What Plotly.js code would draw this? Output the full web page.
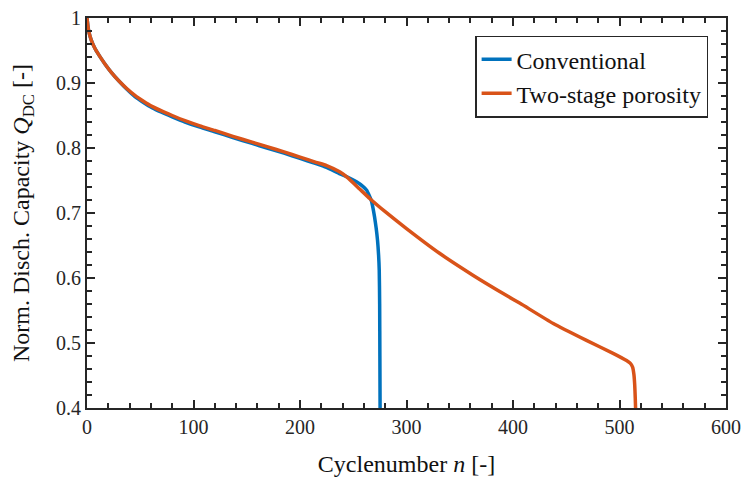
<!DOCTYPE html>
<html>
<head>
<meta charset="utf-8">
<script src="https://cdn.plot.ly/plotly-3.0.1.min.js"></script>
<style>html,body{margin:0;padding:0;background:#fff;}#chart{width:744px;height:484px;}</style>
</head>
<body>
<div id="chart"></div>
<script>
// Conventional electrode
const convN = [0, 1, 2, 4, 7.5, 12, 17, 23, 30, 37, 45, 53, 61, 70, 80, 92, 106, 120, 137, 155, 169, 185, 200, 215, 225, 237.6, 245, 253, 259, 262.6, 265, 267, 268.5, 270, 271.5, 272.8, 273.8, 274.4, 274.8, 275.0, 275.2];
const convQ = [1.000, 0.986, 0.977, 0.966, 0.953, 0.941, 0.929, 0.916, 0.903, 0.891, 0.879, 0.870, 0.862, 0.855, 0.848, 0.840, 0.832, 0.825, 0.816, 0.807, 0.800, 0.792, 0.784, 0.776, 0.770, 0.760, 0.755, 0.748, 0.741, 0.735, 0.727, 0.719, 0.708, 0.694, 0.677, 0.658, 0.635, 0.612, 0.560, 0.480, 0.400];
// Two-stage porosity electrode
const twoN = [0, 1, 2, 4, 7.5, 12, 17, 23, 30, 37, 45, 53, 61, 70, 80, 92, 106, 120, 137, 155, 169, 185, 200, 215, 225, 237.6, 245, 256, 265.7, 280, 300, 331, 362.7, 394, 406.6, 437.8, 469, 494, 506.6, 510, 512.3, 513.5, 514.3, 514.8, 515.1];
const twoQ = [1.000, 0.986, 0.977, 0.966, 0.953, 0.941, 0.929, 0.916, 0.903, 0.892, 0.881, 0.872, 0.864, 0.857, 0.850, 0.842, 0.834, 0.827, 0.818, 0.809, 0.802, 0.794, 0.786, 0.778, 0.773, 0.763, 0.754, 0.737, 0.722, 0.702, 0.676, 0.638, 0.604, 0.573, 0.561, 0.530, 0.504, 0.484, 0.473, 0.469, 0.463, 0.452, 0.435, 0.415, 0.400];

const seriesNames = ['Conventional', 'Two-stage porosity'];
const xMajorTicks = [0, 100, 200, 300, 400, 500, 600];
const yMajorTicks = [0.4, 0.5, 0.6, 0.7, 0.8, 0.9, 1.0];
const xMinorStep = 20;
const yMinorStep = 0.02;

const ink = '#262626';
const serif = 'Liberation Serif, Times New Roman, serif';
const xMin = xMajorTicks[0], xMax = xMajorTicks[xMajorTicks.length - 1];
const yMin = yMajorTicks[0], yMax = yMajorTicks[yMajorTicks.length - 1];

function isMajor(list, v) { return list.some(function (t) { return Math.abs(t - v) < 1e-6; }); }
const xMinorVals = [], yMinorVals = [];
for (let i = 0; xMin + i * xMinorStep <= xMax + 1e-9; i++) {
  const v = xMin + i * xMinorStep; if (!isMajor(xMajorTicks, v)) xMinorVals.push(v);
}
for (let i = 0; yMin + i * yMinorStep <= yMax + 1e-9; i++) {
  const v = +(yMin + i * yMinorStep).toFixed(4); if (!isMajor(yMajorTicks, v)) yMinorVals.push(v);
}

const traces = [
  {x: convN, y: convQ, name: seriesNames[0], mode: 'lines', type: 'scatter',
   line: {color: '#0072BD', width: 3.5, shape: 'spline', smoothing: 0.5}},
  {x: twoN, y: twoQ, name: seriesNames[1], mode: 'lines', type: 'scatter',
   line: {color: '#D95319', width: 3.5, shape: 'spline', smoothing: 0.5}}
];

function axis(extra) {
  return Object.assign({
    showgrid: false, zeroline: false, showline: true, linecolor: ink, linewidth: 2,
    mirror: 'allticks', ticks: 'inside', ticklen: 8, tickwidth: 2, tickcolor: ink,
    tickfont: {size: 20, color: ink}
  }, extra);
}

const layout = {
  width: 744, height: 484,
  margin: {l: 87, r: 18, t: 18, b: 76},
  paper_bgcolor: '#fff', plot_bgcolor: '#fff',
  font: {family: serif, color: ink},
  showlegend: true,
  legend: {
    x: 0.972, y: 0.955, xanchor: 'right', yanchor: 'top',
    bgcolor: '#fff', bordercolor: ink, borderwidth: 1.5,
    font: {size: 24, color: '#111'},
    tracegroupgap: 0
  },
  xaxis: axis({
    range: [xMin, xMax], tickmode: 'array', tickvals: xMajorTicks, ticktext: xMajorTicks.map(String),
    minor: {tickmode: 'array', tickvals: xMinorVals, ticks: 'inside', ticklen: 5, tickwidth: 2, tickcolor: ink, showgrid: false},
    title: {text: 'Cyclenumber <i>n</i> [-]', font: {size: 24, color: '#111'}, standoff: 18}
  }),
  yaxis: axis({
    range: [yMin, yMax], tickmode: 'array', tickvals: yMajorTicks, ticktext: yMajorTicks.map(function (v) { return v === 1 ? '1' : v.toFixed(1); }),
    minor: {tickmode: 'array', tickvals: yMinorVals, ticks: 'inside', ticklen: 5, tickwidth: 2, tickcolor: ink, showgrid: false},
    title: {text: 'Norm. Disch. Capacity <i>Q</i><sub>DC</sub> [-]', font: {size: 24, color: '#111'}, standoff: 20}
  })
};

Plotly.newPlot('chart', traces, layout, {displayModeBar: false, staticPlot: true});
</script>
</body>
</html>
